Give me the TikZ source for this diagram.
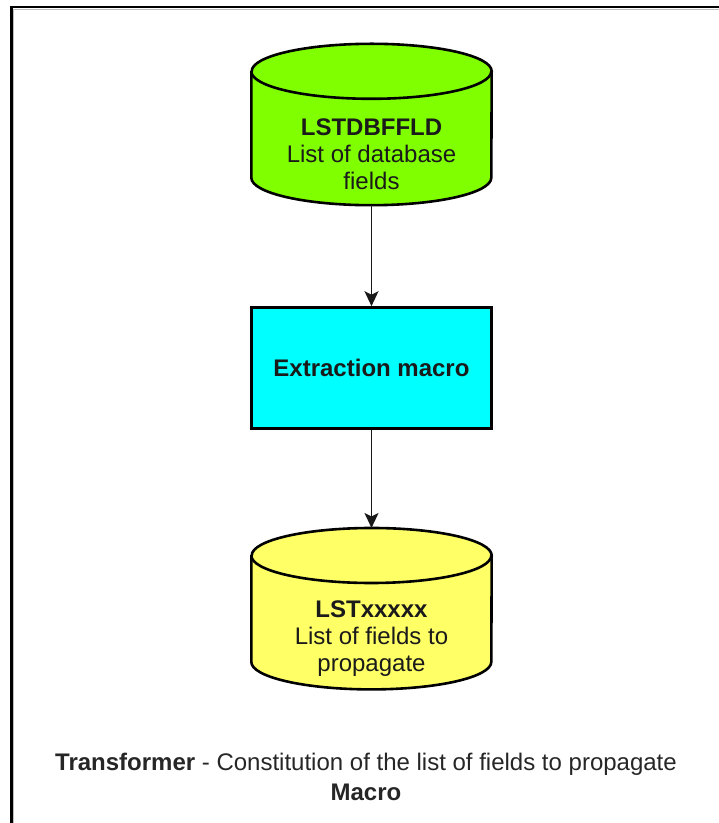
\documentclass[tikz,border=0pt]{standalone}
\usepackage{fontspec}
\setmainfont{Liberation Sans}
\usetikzlibrary{arrows.meta,positioning}
\definecolor{dbgreen}{RGB}{128,255,0}
\definecolor{macrocyan}{RGB}{0,255,255}
\definecolor{outyellow}{RGB}{255,255,102}
\definecolor{txtdark}{RGB}{26,26,26}
\tikzset{
  dbspot/.style={minimum width=240pt, minimum height=161pt, inner sep=0pt},
  cylline/.style={draw=black, line width=2.6pt, line join=round},
  cyltxt/.style={align=center, text=txtdark, font=\fontsize{24}{27}\selectfont},
  procbox/.style={draw=black, line width=2.8pt, fill=macrocyan, minimum width=240pt,
                  minimum height=121pt, text=txtdark, font=\bfseries\fontsize{24}{27}\selectfont},
  flowarr/.style={-{Stealth[length=15pt,width=14pt,inset=3.5pt]}, line width=1.8pt, black!90},
  capt/.style={align=center, text=black!85, font=\fontsize{24}{30}\selectfont},
}

\begin{document}
\begin{tikzpicture}[x=1pt,y=1pt]
        \clip (0,0) rectangle (719,823);
        % frame, cut at the right and bottom
        \draw[gray!50, line width=1.2pt] (13.8,-5) -- (13.8,813.8) -- (730,813.8);
        \draw[line width=2.6pt] (11.5,-5) -- (11.5,816) -- (730,816);
        \node[dbspot] (dbfld) at (371.5,698.5) {};
        \node[procbox, below=101pt of dbfld] (extract) {Extraction macro};
        \node[dbspot, below=98pt of extract] (lstout) {};
        % the two cylinders
        \foreach \cyl/\col in {dbfld/dbgreen, lstout/outyellow} {
          \filldraw[cylline, fill=\col] ([yshift=-27.5pt]\cyl.north west) -- ([yshift=27.5pt]\cyl.south west)
            arc[start angle=180, end angle=360, x radius=120pt, y radius=27.5pt]
            -- ([yshift=-27.5pt]\cyl.north east)
            arc[start angle=0, end angle=180, x radius=120pt, y radius=27.5pt] -- cycle;
          \draw[cylline] ([yshift=-27.5pt]\cyl.north west)
            arc[start angle=180, end angle=360, x radius=120pt, y radius=27.5pt];
        }
        \node[cyltxt] (dbfldtxt) at ([yshift=-30pt]dbfld.center) {\textbf{LSTDBFFLD}\\List of database\\fields};
        \node[cyltxt] (lstouttxt) at ([yshift=-30pt]lstout.center) {\textbf{LSTxxxxx}\\List of fields to\\propagate};
        \draw[flowarr] (dbfld) -- (extract);
        \draw[flowarr] (extract) -- (lstout);
        \node[capt] (caption) at (366,46) {\textbf{Transformer} - Constitution of the list of fields to propagate\\\textbf{Macro}};
      \end{tikzpicture}
\end{document}
